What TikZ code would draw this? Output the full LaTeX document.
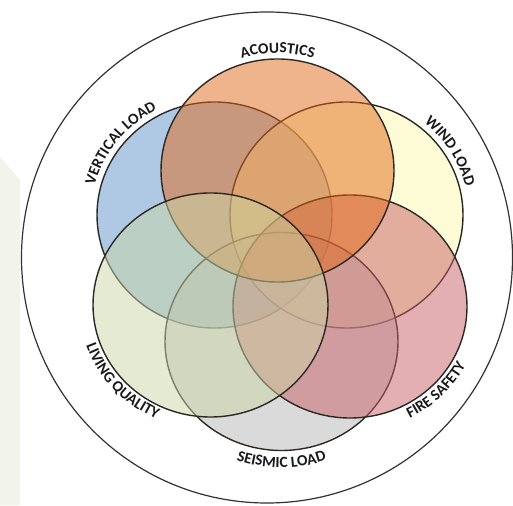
\documentclass[tikz,border=0pt]{standalone}
\usepackage{fontspec}
\newfontfamily\labelfont{Carlito}
\usetikzlibrary{decorations.text}
\definecolor{cBlue}{RGB}{95,145,201}
\definecolor{cYellow}{RGB}{253,249,175}
\definecolor{cGrey}{RGB}{181,181,181}
\definecolor{cPink}{RGB}{201,95,101}
\definecolor{cOrange}{RGB}{225,105,25}
\definecolor{cGreen}{RGB}{201,215,165}
\definecolor{lineC}{RGB}{45,40,36}
\definecolor{outerC}{RGB}{50,50,50}
\definecolor{bgC}{RGB}{242,243,234}
\definecolor{textC}{RGB}{25,25,25}
\newcommand\lblfmt{\labelfont\bfseries\fontsize{15.5}{17}\selectfont}
\tikzset{
  venn/.style={fill opacity=0.5, draw=lineC, line width=1.4pt},
  lbl/.style={decorate, decoration={text along path, text align=center, text color=textC, text={|\lblfmt|#1}}}
}
\begin{document}
\begin{tikzpicture}[x=1pt,y=1pt]
\useasboundingbox (0,0) rectangle (513,505);
\fill[bgC] (0,348) -- (20,325) -- (20,0) -- (0,0) -- cycle;
\draw[outerC, line width=1.2pt] (267,247.5) circle[radius=245.5];
\coordinate (blueC) at (214.5,290);
\coordinate (yellowC) at (346.5,290);
\coordinate (greyC) at (281.5,163.5);
\coordinate (pinkC) at (350,198.5);
\coordinate (orangeC) at (277.5,334.5);
\coordinate (greenC) at (210.5,200);
\draw[venn, fill=cBlue] (blueC) ellipse[x radius=117.5, y radius=113];
\draw[venn, fill=cYellow] (yellowC) ellipse[x radius=116.5, y radius=113];
\draw[venn, fill=cGrey] (greyC) ellipse[x radius=116.5, y radius=109];
\draw[venn, fill=cPink] (pinkC) ellipse[x radius=117, y radius=111.5];
\draw[venn, fill=cOrange] (orangeC) ellipse[x radius=116.5, y radius=111.5];
\draw[venn, fill=cGreen] (greenC) ellipse[x radius=117.5, y radius=112];
% labels
\path[lbl={ACOUSTICS}] (orangeC) ++(130:122.5 and 117.5) arc[start angle=130, end angle=50, x radius=122.5, y radius=117.5];
\path[lbl={VERTICAL LOAD}] (blueC) ++(182:123.5 and 119) arc[start angle=182, end angle=102, x radius=123.5, y radius=119];
\path[lbl={WIND LOAD}] (yellowC) ++(72:122.5 and 119) arc[start angle=72, end angle=-8, x radius=122.5, y radius=119];
\path[lbl={FIRE SAFETY}] (pinkC) ++(-85:131 and 125.5) arc[start angle=-85, end angle=-5, x radius=131, y radius=125.5];
\path[lbl={SEISMIC LOAD}] (greyC) ++(-130:132.5 and 126) arc[start angle=-130, end angle=-50, x radius=132.5, y radius=126];
\path[lbl={LIVING QUALITY}] (greenC) ++(182:131.5 and 125) arc[start angle=182, end angle=262, x radius=131.5, y radius=125];
\end{tikzpicture}
\end{document}
